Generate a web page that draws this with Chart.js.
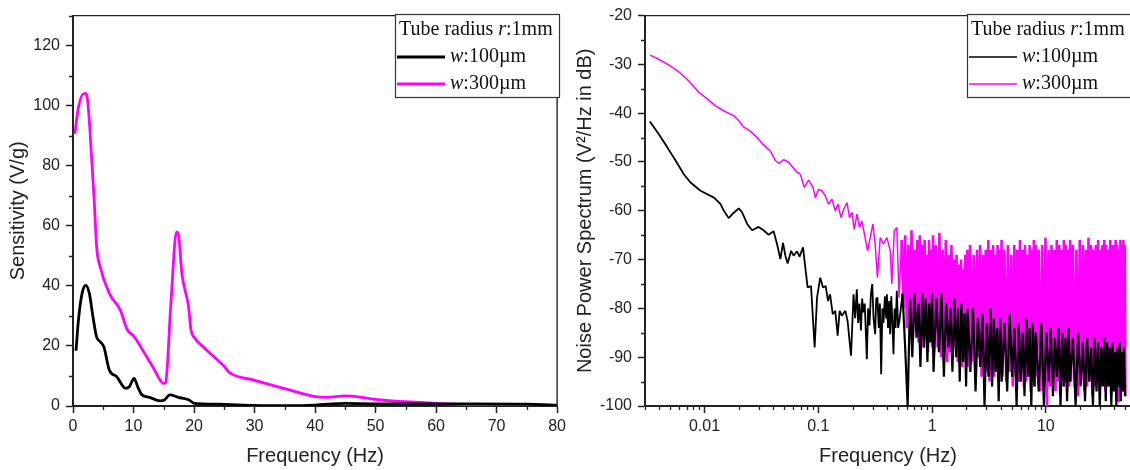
<!DOCTYPE html>
<html>
<head>
<meta charset="utf-8">
<script src="https://cdn.jsdelivr.net/npm/chart.js@4.4.1/dist/chart.umd.min.js"></script>
<style>
  html, body { margin: 0; padding: 0; background: #fff; overflow: hidden; }
  #wrap { position: relative; width: 1130px; height: 470px; overflow: hidden; }
  .panel { position: absolute; top: 0; width: 570px; height: 470px; }
  #left { left: 0; }
  #right { left: 570px; }
</style>
</head>
<body>
<div id="wrap">
  <div class="panel" id="left"><canvas id="sensChart" width="570" height="470"></canvas></div>
  <div class="panel" id="right"><canvas id="noiseChart" width="570" height="470"></canvas></div>
</div>
<script>
// ===== Left panel: sensitivity vs frequency =====
const sens100Freq = [0.5, 0.9, 1.5, 2.1, 2.7, 3.3, 3.9, 4.5, 5.1, 6.0, 7.2, 8.7, 9.3, 10.1, 10.7, 11.4, 12.6, 14.4, 15.1, 16.0,
  17.4, 19.2, 20.0, 23.9, 30, 36, 40, 45, 51, 66, 75, 80];
const sens100 = [18.4, 28.6, 37.5, 40.2, 37.5, 29.7, 23, 21.4, 19.7, 12, 9.8, 5.9, 6.4, 9.2, 6.4, 3.7, 2.9, 1.7, 2, 3.7,
  2.9, 2, 0.9, 0.6, 0.2, 0.1, 0.3, 0.9, 0.7, 0.7, 0.6, 0.2];

const sens300Freq = [0.3, 0.9, 1.8, 2.2, 2.7, 3.0, 3.5, 3.9, 4.5, 6.0, 7.8, 9.0, 9.9, 10.5, 11.4, 13.2, 15.0, 15.3, 16.2, 17.1,
  17.4, 18.0, 19.1, 19.5, 20.0, 21.5, 23.9, 25.1, 25.7, 29.9, 35.9, 40.1, 41.9, 44.9, 46.0, 50.9, 59.8, 65.8, 80];
const sens300 = [90.6, 99.5, 104, 104, 95, 85, 68.5, 53, 46.3, 37.5, 32, 25.3, 23.6, 22, 19, 13, 7.5, 7.8, 35, 58,
  57.4, 44, 33, 25.3, 23, 19.7, 15.3, 13, 11.4, 8.6, 5.3, 3.1, 2.9, 3.4, 3.3, 2, 0.9, 0.4, 0.3];

const sensXTicks = [0, 10, 20, 30, 40, 50, 60, 70, 80];
const sensXMinor = [5, 15, 25, 35, 45, 55, 65, 75];
const sensYTicks = [0, 20, 40, 60, 80, 100, 120];
const sensYMinor = [10, 30, 50, 70, 90, 110, 130];

// ===== Right panel: noise power spectrum (dB) =====
const psd100Freq = [0.00331, 0.00397, 0.00471, 0.00557, 0.00658, 0.00754, 0.00923, 0.0121, 0.0138, 0.0148,
  0.0163, 0.0179, 0.0200, 0.0214, 0.0237, 0.0262, 0.0299, 0.0331, 0.0366, 0.0405,
  0.0434, 0.0464, 0.0490, 0.0514, 0.0538, 0.0577, 0.0607, 0.0650, 0.0685, 0.0734,
  0.0769, 0.0806, 0.0863, 0.0929, 0.0975, 0.104, 0.110, 0.116, 0.122, 0.127,
  0.134, 0.141, 0.148, 0.154, 0.161, 0.173, 0.181, 0.194, 0.204, 0.211,
  0.218, 0.224, 0.230, 0.237, 0.243, 0.249, 0.256, 0.267, 0.274, 0.282,
  0.290, 0.298, 0.306, 0.316, 0.323, 0.331, 0.340, 0.348, 0.357, 0.366,
  0.374, 0.385, 0.395, 0.401, 0.410, 0.420, 0.428, 0.438, 0.448, 0.458,
  0.468, 0.478, 0.490, 0.503, 0.516,
  0.55, 0.58, 0.61, 0.64, 0.67, 0.70, 0.73, 0.76, 0.79, 0.82, 0.85, 0.88, 0.91, 0.94, 0.97, 1.00, 1.03,
  1.09, 1.15, 1.21, 1.27, 1.33, 1.39, 1.45, 1.51, 1.57, 1.63, 1.69, 1.75, 1.81, 1.87, 1.93, 1.99, 2.05,
  2.17, 2.29, 2.41, 2.53, 2.65, 2.77, 2.89, 3.01, 3.13, 3.25, 3.37, 3.49, 3.61, 3.73, 3.85, 3.97, 4.09,
  4.33, 4.57, 4.81, 5.05, 5.29, 5.53, 5.77, 6.01, 6.25, 6.49, 6.73, 6.97, 7.21, 7.45, 7.69, 7.93, 8.17,
  8.65, 9.13, 9.61, 10.09, 10.57, 11.05, 11.53, 12.01, 12.49, 12.97, 13.45, 13.93, 14.41, 14.89, 15.37, 15.85, 16.33,
  17.29, 18.25, 19.21, 20.17, 21.13, 22.09, 23.05, 24.01, 24.97, 25.93, 26.89, 27.85, 28.81, 29.77, 30.73, 31.69, 32.65,
  33.6, 34.6, 35.6, 36.6, 37.6, 38.6, 39.6, 40.6, 41.6, 42.6, 43.6, 44.6, 45.6, 46.6, 47.6, 48.6, 49.6];
const psd100 = [-41.7, -44.3, -47.0, -49.7, -52.5, -54.2, -55.9, -57.3, -58.6, -60.0,
  -61.5, -60.5, -59.5, -60.3, -62.7, -64.0, -63.3, -64.0, -64.9, -64.2,
  -66.8, -69.9, -66.6, -69.2, -70.8, -68.2, -69.2, -68.3, -69.4, -67.5,
  -71.6, -75.7, -75.4, -88.0, -77.8, -73.7, -75.7, -75.4, -78.5, -77.1,
  -81.2, -80.5, -85.6, -80.5, -81.5, -80.5, -82.6, -89.7, -77.1, -82.0,
  -76.1, -83.0, -79.0, -84.5, -78.0, -80.8, -79.0, -90.4, -80.0, -83.5,
  -77.0, -75.0, -82.0, -85.3, -78.0, -77.8, -84.0, -79.0, -93.5, -80.0,
  -83.0, -77.5, -82.0, -77.1, -84.0, -78.5, -85.3, -77.5, -83.0, -89.4,
  -80.0, -84.0, -76.4, -84.0, -82.6,
  -77, -88, -100, -78, -90, -77, -86, -79, -92, -77, -88, -78, -91, -79, -87, -77, -93,
  -78, -89, -77, -94, -79, -88, -80, -93, -78, -90, -80, -95, -79, -91, -81, -96, -80,
  -93, -80, -97, -82, -92, -81, -100, -83, -94, -80, -96, -82, -93, -84, -99, -82, -95,
  -83, -97, -81, -94, -84, -100, -83, -95, -85, -98, -82, -94, -84, -100, -83, -96, -85,
  -97, -83, -100, -85, -95, -84, -98, -86, -94, -84, -100, -85, -96, -86, -99, -84, -95,
  -86, -100, -85, -96, -87, -99, -86, -95, -88, -100, -86, -97, -87, -100, -88, -96, -86,
  -99, -87, -96, -88, -100, -87, -97, -89, -100, -88, -96, -87, -99, -89, -97, -88, -98];

const psd300Freq = [0.00333, 0.0040, 0.0050, 0.0060, 0.0070, 0.0080, 0.0090, 0.0105, 0.0125, 0.015,
  0.018, 0.020, 0.022, 0.025, 0.029, 0.033, 0.038, 0.042, 0.045, 0.0497,
  0.055, 0.065, 0.0695, 0.0753, 0.0822, 0.0899, 0.0942, 0.1007, 0.1076, 0.115,
  0.123, 0.132, 0.141, 0.149, 0.158, 0.167, 0.179, 0.188, 0.198, 0.207,
  0.219, 0.230, 0.242, 0.258, 0.271, 0.286, 0.302, 0.316, 0.331, 0.350,
  0.374, 0.401, 0.429, 0.443, 0.465, 0.490, 0.513,
  0.54, 0.56, 0.58, 0.60, 0.62, 0.64, 0.66, 0.68, 0.70, 0.72, 0.74, 0.76, 0.78, 0.80, 0.82, 0.84, 0.86, 0.88, 0.90, 0.92, 0.94, 0.96, 0.98, 1.00, 1.02, 1.04,
  1.08, 1.12, 1.16, 1.20, 1.24, 1.28, 1.32, 1.36, 1.40, 1.44, 1.48, 1.52, 1.56, 1.60, 1.64, 1.68, 1.72, 1.76, 1.80, 1.84, 1.88, 1.92, 1.96, 2.00, 2.04, 2.08,
  2.16, 2.24, 2.32, 2.40, 2.48, 2.56, 2.64, 2.72, 2.80, 2.88, 2.96, 3.04, 3.12, 3.20, 3.28, 3.36, 3.44, 3.52, 3.60, 3.68, 3.76, 3.84, 3.92, 4.00, 4.08, 4.16,
  4.32, 4.48, 4.64, 4.80, 4.96, 5.12, 5.28, 5.44, 5.60, 5.76, 5.92, 6.08, 6.24, 6.40, 6.56, 6.72, 6.88, 7.04, 7.20, 7.36, 7.52, 7.68, 7.84, 8.00, 8.16, 8.32,
  8.64, 8.96, 9.28, 9.60, 9.92, 10.24, 10.56, 10.88, 11.20, 11.52, 11.84, 12.16, 12.48, 12.80, 13.12, 13.44, 13.76, 14.08, 14.40, 14.72, 15.04, 15.36, 15.68, 16.00, 16.32, 16.64,
  17.28, 17.92, 18.56, 19.20, 19.84, 20.48, 21.12, 21.76, 22.40, 23.04, 23.68, 24.32, 24.96, 25.60, 26.24, 26.88, 27.52, 28.16, 28.80, 29.44, 30.08, 30.72, 31.36, 32.00, 32.64, 33.28,
  34, 34.7, 35.4, 36.1, 36.8, 37.5, 38.2, 38.9, 39.6, 40.3, 41, 41.7, 42.4, 43.1, 43.8, 44.5, 45.2, 45.9, 46.6, 47.3, 48, 48.7, 49.4, 50];
const psd300 = [-28.1, -29.0, -30.3, -31.6, -33.0, -34.5, -35.8, -37.0, -38.5, -39.6,
  -40.5, -41.5, -42.8, -43.6, -45.0, -46.5, -47.8, -49.7, -50.3, -49.5,
  -50.1, -52.1, -52.5, -55.2, -53.7, -55.2, -57.3, -55.6, -55.9, -56.9,
  -58.6, -57.6, -60.0, -58.6, -61.4, -59.7, -58.3, -61.4, -60.3, -63.8,
  -60.7, -63.4, -62.1, -65.5, -68.2, -65.5, -62.7, -66.8, -73.7, -65.5,
  -66.8, -65.5, -68.2, -75.0, -64.1, -63.4, -77.8,
  -66, -80, -65, -84, -67, -82, -64, -86, -68, -83, -66, -87, -65, -85, -67, -88, -66, -86, -69, -89, -66, -87, -68, -88, -65, -89,
  -67, -88, -64.5, -90, -68, -87, -66, -91, -69, -89, -67, -90, -70, -88, -69, -91, -71, -89, -70, -92, -72, -90, -69, -91, -68, -92,
  -67, -91, -69, -93, -68, -90, -67, -94, -69, -92, -68, -93, -66, -95, -68, -92, -67, -94, -69, -93, -67, -95, -68, -93, -66, -94,
  -68, -95, -67, -93, -69, -96, -67, -94, -68, -95, -66, -93, -68, -96, -67, -95, -69, -94, -67, -97, -68, -95, -66, -96, -67, -94,
  -68, -97, -67, -95, -65.5, -100, -68, -96, -67, -94, -68, -97, -66, -95, -67, -98, -68, -96, -66, -95, -67, -97, -68, -96, -66, -95,
  -67, -96, -68, -98, -66, -95, -67, -97, -68, -96, -65.5, -95, -67, -98, -68, -96, -67, -95, -66, -97, -68, -96, -67, -95, -66, -97,
  -67, -96, -68, -95, -66, -98, -67, -96, -68, -95, -66, -97, -67, -99, -68, -96, -66, -95, -67, -97, -66, -95, -67, -98];

const noiseXTicks = [0.01, 0.1, 1, 10];
const noiseYTicks = [-100, -90, -80, -70, -60, -50, -40, -30, -20];
const noiseYMinor = [-95, -85, -75, -65, -55, -45, -35, -25];

// ===== helpers =====
const getEl = (id) => document.getElementById(id);
const AXIS = '#222';
const SANS = "'Liberation Sans', Arial, sans-serif";
const SERIF = "'Liberation Serif', 'Times New Roman', serif";
const MAJOR_LEN = 7, MINOR_LEN = 4;
const pts = (xs, ys) => xs.map((x, i) => ({ x: x, y: ys[i] }));
const setTicks = (vals) => (s) => { s.ticks = vals.map(v => ({ value: v })); };
// the dense part of the spectrum is drawn a bit heavier so it fills in like the original
const noisyWidth = (thin, thick) => (ctx) => (ctx.p0.parsed.x > 0.52 ? thick : thin);

// log minor ticks: 2..9 in every decade inside the range
function logMinor(min, max) {
    const out = [];
    for (let e = -3; e <= 1; e++) {
        for (let m = 2; m <= 9; m++) {
            const v = m * Math.pow(10, e);
            if (v >= min && v <= max) out.push(v);
        }
    }
    return out;
}

// frame on top/right + short minor ticks under/left of the axes
const framePlugin = {
    id: 'frameTicks',
    afterDraw(chart, args, o) {
        const { ctx, chartArea: a, scales } = chart;
        ctx.save();
        ctx.strokeStyle = AXIS;
        ctx.lineWidth = 1.4;
        ctx.beginPath();
        ctx.moveTo(a.left, a.top); ctx.lineTo(a.right, a.top); ctx.lineTo(a.right, a.bottom);
        ctx.stroke();
        ctx.lineWidth = 1.3;
        ctx.beginPath();
        o.xMinor.forEach(v => {
            const px = Math.round(scales.x.getPixelForValue(v)) + 0.5;
            ctx.moveTo(px, a.bottom); ctx.lineTo(px, a.bottom + MINOR_LEN);
        });
        o.yMinor.forEach(v => {
            const py = Math.round(scales.y.getPixelForValue(v)) + 0.5;
            ctx.moveTo(a.left, py); ctx.lineTo(a.left - MINOR_LEN, py);
        });
        ctx.stroke();
        ctx.restore();
    }
};

// boxed legend with the italic r / w like the original figure
const legendPlugin = {
    id: 'boxLegend',
    afterDraw(chart, args, o) {
        const ctx = chart.ctx;
        ctx.save();
        ctx.fillStyle = '#fff';
        ctx.fillRect(o.x, o.y, o.w, o.h);
        ctx.strokeStyle = '#333';
        ctx.lineWidth = 1.2;
        ctx.strokeRect(o.x + 0.5, o.y + 0.5, o.w, o.h);
        ctx.textBaseline = 'middle';
        ctx.fillStyle = '#111';
        const run = (parts, x, y) => parts.forEach(([t, it]) => {
            ctx.font = (it ? 'italic ' : '') + '20px ' + SERIF;
            ctx.fillText(t, x, y);
            x += ctx.measureText(t).width;
        });
        run([['Tube radius ', 0], ['r', 1], [':1mm', 0]], o.x + 4, o.y + 16);
        chart.data.datasets.forEach((ds, i) => {
            const y = o.y + 43 + i * 27;
            ctx.strokeStyle = ds.borderColor;
            ctx.lineWidth = o.lineWidth;
            ctx.beginPath(); ctx.moveTo(o.x + 2, y); ctx.lineTo(o.x + 50, y); ctx.stroke();
            ctx.fillStyle = '#111';
            run([['w', 1], [ds.label.slice(1), 0]], o.x + 55, y);
        });
        ctx.restore();
    }
};

function axisBase(ticks, title, titlePad) {
    return {
        afterBuildTicks: setTicks(ticks),
        grid: { display: true, drawOnChartArea: false, drawTicks: true, tickLength: MAJOR_LEN, tickWidth: 1.5, tickColor: AXIS },
        border: { display: true, color: AXIS, width: 2 },
        ticks: { font: { family: SANS, size: 16 }, color: AXIS, autoSkip: false, maxRotation: 0 },
        title: { display: true, text: title, font: { family: SANS, size: 20 }, color: AXIS, padding: titlePad }
    };
}

const baseOptions = {
    responsive: false,
    animation: false,
    events: [],
    elements: { point: { radius: 0 }, line: { borderJoinStyle: 'bevel' } }
};

// ===== Sensitivity chart =====
const sx = axisBase(sensXTicks, 'Frequency (Hz)', { top: 0, bottom: 2 });
Object.assign(sx, { type: 'linear', min: 0, max: 80, afterFit: s => { s.height = 64; } });
sx.ticks.padding = 4;
const sy = axisBase(sensYTicks, 'Sensitivity (V/g)', { top: 6, bottom: 0 });
Object.assign(sy, { type: 'linear', min: 0, max: 130, afterFit: s => { s.width = 73; } });
sy.ticks.padding = 6;

new Chart(getEl('sensChart'), {
    type: 'line',
    data: {
        datasets: [
            { label: 'w:100µm', data: pts(sens100Freq, sens100), borderColor: '#000000', borderWidth: 2.8, cubicInterpolationMode: 'monotone' },
            { label: 'w:300µm', data: pts(sens300Freq, sens300), borderColor: '#ff00ff', borderWidth: 2.8, cubicInterpolationMode: 'monotone' }
        ]
    },
    options: {
        ...baseOptions,
        layout: { padding: { top: 14, right: 11, left: 0, bottom: 0 } },
        plugins: {
            legend: { display: false },
            tooltip: { enabled: false },
            frameTicks: { xMinor: sensXMinor, yMinor: sensYMinor },
            boxLegend: { x: 395, y: 14, w: 164, h: 83, lineWidth: 3 }
        },
        scales: { x: sx, y: sy }
    },
    plugins: [framePlugin, legendPlugin]
});

// ===== Noise spectrum chart =====
const NX_MIN = 0.003, NX_MAX = 56;
const nx = axisBase(noiseXTicks, 'Frequency (Hz)', { top: 0, bottom: 2 });
Object.assign(nx, { type: 'logarithmic', min: NX_MIN, max: NX_MAX, afterFit: s => { s.height = 64; } });
nx.ticks.padding = 4;
nx.ticks.callback = (v) => String(v);
const ny = axisBase(noiseYTicks, 'Noise Power Spectrum (V\u00b2/Hz in dB)', { top: 3, bottom: 0 });
Object.assign(ny, { type: 'linear', min: -100, max: -20, afterFit: s => { s.width = 75; } });
ny.ticks.padding = 6;

new Chart(getEl('noiseChart'), {
    type: 'line',
    data: {
        datasets: [
            { label: 'w:100µm', data: pts(psd100Freq, psd100), borderColor: '#000000', borderWidth: 1.8,
              segment: { borderWidth: noisyWidth(1.8, 2.2) } },
            { label: 'w:300µm', data: pts(psd300Freq, psd300), borderColor: '#ff00ff', borderWidth: 1.5,
              segment: { borderWidth: noisyWidth(1.5, 2.6) } }
        ]
    },
    options: {
        ...baseOptions,
        layout: { padding: { top: 14, right: 9, left: 0, bottom: 0 } },
        plugins: {
            legend: { display: false },
            tooltip: { enabled: false },
            frameTicks: { xMinor: logMinor(NX_MIN, NX_MAX), yMinor: noiseYMinor },
            boxLegend: { x: 397, y: 14, w: 164, h: 83, lineWidth: 1.6 }
        },
        scales: { x: nx, y: ny }
    },
    plugins: [framePlugin, legendPlugin]
});
</script>
</body>
</html>
